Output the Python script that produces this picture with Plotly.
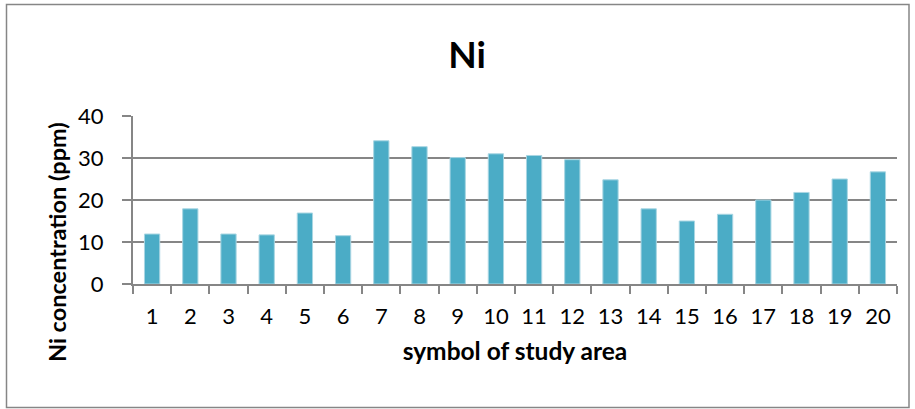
import plotly.graph_objects as go

categories = [str(i) for i in range(1, 21)]
ni_values = [11.9, 17.9, 11.9, 11.7, 16.9, 11.5, 34.1, 32.7, 30.1, 31.0,
             30.6, 29.6, 24.8, 17.9, 15.0, 16.6, 20.0, 21.8, 25.0, 26.7]
y_ticks = [0, 10, 20, 30, 40]

W, H = 915, 409
L, R, T, B = 133, 18, 116, 125
pw, ph = W - L - R, H - T - B

fig = go.Figure(go.Bar(
    x=categories, y=ni_values,
    marker=dict(color="#4BACC6", line=dict(color="#A9D6E3", width=1)),
    width=0.4,
))

font = "Lato, Open Sans, sans-serif"
fig.update_layout(
    width=W, height=H,
    margin=dict(l=L, r=R, t=T, b=B),
    paper_bgcolor="white", plot_bgcolor="white",
    showlegend=False,
    title=dict(text="<b>Ni</b>", x=(467 - L) / pw, xref="paper", xanchor="center",
               y=1 - 55 / H, yanchor="middle",
               font=dict(family=font, size=37, color="black")),
    font=dict(family=font, color="black"),
)
fig.update_xaxes(
    type="category", showline=True, linecolor="#868686", linewidth=2,
    ticks="outside", tickson="boundaries", ticklen=8, tickcolor="#868686", tickwidth=2,
    tickfont=dict(size=22), ticklabelstandoff=12, showgrid=False,
    title=dict(text="<b>symbol of study area</b>", font=dict(size=24.5), standoff=14),
)
fig.update_yaxes(
    range=[0, 40], tickvals=y_ticks, showline=True, linecolor="#868686", linewidth=2,
    ticks="outside", ticklen=9, tickcolor="#868686", tickwidth=2,
    showgrid=True, gridcolor="#868686", gridwidth=2, zeroline=False,
    tickfont=dict(size=22), ticklabelstandoff=14,
)
fig.add_annotation(
    text="<b>Ni concentration (ppm)</b>", textangle=-90,
    xref="paper", yref="paper", x=(57 - L) / pw, y=(H - B - 242) / ph,
    xanchor="center", yanchor="middle", showarrow=False,
    font=dict(family=font, size=23.5, color="black"),
)
fig.add_shape(type="rect", xref="paper", yref="paper",
              x0=(6.5 - L) / pw, x1=(909 - L) / pw,
              y0=(H - B - 407.5) / ph, y1=(H - B - 4.5) / ph,
              line=dict(color="#868686", width=1.5), fillcolor="rgba(0,0,0,0)", layer="below")
fig.write_html("out.html")
